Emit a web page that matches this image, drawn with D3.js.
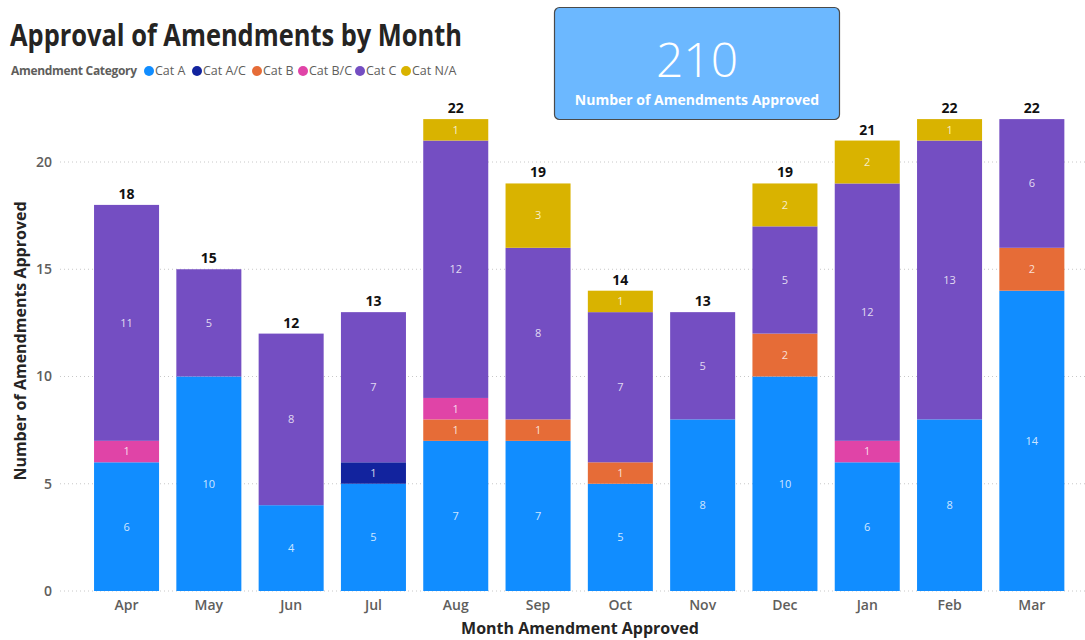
<!DOCTYPE html>
<html>
<head>
<meta charset="utf-8">
<script src="https://cdn.jsdelivr.net/npm/d3@7"></script>
<style>
  body { margin: 0; background: #fff; }
  svg { display: block; }
  text { font-family: "Open Sans", "Noto Sans", sans-serif; }
</style>
</head>
<body>
<div id="chart"></div>
<script>
// months and categories
var months = ["Apr", "May", "Jun", "Jul", "Aug", "Sep", "Oct", "Nov", "Dec", "Jan", "Feb", "Mar"];
var categories = ["Cat A", "Cat A/C", "Cat B", "Cat B/C", "Cat C", "Cat N/A"];
var catColors = ["#118DFF", "#12239E", "#E66C37", "#E044A7", "#744EC2", "#D9B300"];

// values per category, one per month
var catA  = [6, 10, 4, 5, 7, 7, 5, 8, 10, 6, 8, 14];
var catAC = [0, 0, 0, 1, 0, 0, 0, 0, 0, 0, 0, 0];
var catB  = [0, 0, 0, 0, 1, 1, 1, 0, 2, 0, 0, 2];
var catBC = [1, 0, 0, 0, 1, 0, 0, 0, 0, 1, 0, 0];
var catC  = [11, 5, 8, 7, 12, 8, 7, 5, 5, 12, 13, 6];
var catNA = [0, 0, 0, 0, 1, 3, 1, 0, 2, 2, 1, 0];

var yTicks = [0, 5, 10, 15, 20];

var W = 1085, H = 640;
var svg = d3.select("#chart").append("svg")
    .attr("width", W)
    .attr("height", H);

// build table for the stack
var series = [catA, catAC, catB, catBC, catC, catNA];
var table = months.map(function (m, i) {
    var row = {month: m};
    categories.forEach(function (c, j) { row[c] = series[j][i]; });
    return row;
});
var totals = table.map(function (r) {
    return d3.sum(categories, function (c) { return r[c]; });
});

var x = d3.scaleBand()
    .domain(months)
    .range([85.4, 1073])
    .paddingInner(0.21)
    .paddingOuter(0.105);

var y = d3.scaleLinear()
    .domain([0, 22])
    .range([591, 119.1]);

var color = d3.scaleOrdinal().domain(categories).range(catColors);

// gridlines
svg.append("g").selectAll("line")
    .data(yTicks)
    .enter().append("line")
    .attr("x1", 60)
    .attr("x2", 1085)
    .attr("y1", function (d) { return y(d); })
    .attr("y2", function (d) { return y(d); })
    .attr("stroke", "#c8c8c8")
    .attr("stroke-width", 1)
    .attr("stroke-dasharray", "1,3");

// y axis tick labels
svg.append("g").selectAll("text")
    .data(yTicks)
    .enter().append("text")
    .attr("x", 52)
    .attr("y", function (d) { return y(d); })
    .attr("dy", "0.35em")
    .attr("text-anchor", "end")
    .attr("font-size", 14)
    .attr("font-weight", 600)
    .attr("fill", "#605E5C")
    .text(function (d) { return d; });

// stacked bars
var stack = d3.stack().keys(categories)(table);

var layers = svg.append("g").selectAll("g")
    .data(stack)
    .enter().append("g")
    .attr("fill", function (d) { return color(d.key); });

layers.selectAll("rect")
    .data(function (d) { return d.filter(function (s) { return s[1] - s[0] > 0; }); })
    .enter().append("rect")
    .attr("x", function (d) { return x(d.data.month); })
    .attr("width", x.bandwidth())
    .attr("y", function (d) { return y(d[1]); })
    .attr("height", function (d) { return y(d[0]) - y(d[1]); });

// segment labels
layers.selectAll("text")
    .data(function (d) { return d.filter(function (s) { return s[1] - s[0] > 0; }); })
    .enter().append("text")
    .attr("x", function (d) { return x(d.data.month) + x.bandwidth() / 2; })
    .attr("y", function (d) { return (y(d[0]) + y(d[1])) / 2; })
    .attr("dy", "0.35em")
    .attr("text-anchor", "middle")
    .attr("font-size", 11)
    .attr("fill", "#fff")
    .attr("fill-opacity", 0.8)
    .text(function (d) { return d[1] - d[0]; });

// totals above bars
svg.append("g").selectAll("text")
    .data(months)
    .enter().append("text")
    .attr("x", function (d) { return x(d) + x.bandwidth() / 2; })
    .attr("y", function (d, i) { return y(totals[i]) - 6; })
    .attr("text-anchor", "middle")
    .attr("font-size", 14)
    .attr("font-weight", 700)
    .attr("fill", "#111")
    .text(function (d, i) { return totals[i]; });

// x axis labels
svg.append("g").selectAll("text")
    .data(months)
    .enter().append("text")
    .attr("x", function (d) { return x(d) + x.bandwidth() / 2; })
    .attr("y", 610)
    .attr("text-anchor", "middle")
    .attr("font-size", 14)
    .attr("font-weight", 600)
    .attr("fill", "#605E5C")
    .text(function (d) { return d; });

// axis titles
svg.append("text")
    .attr("x", 580)
    .attr("y", 634)
    .attr("text-anchor", "middle")
    .attr("font-size", 16)
    .attr("font-weight", 700)
    .attr("fill", "#252423")
    .text("Month Amendment Approved");

svg.append("text")
    .attr("transform", "translate(26,341) rotate(-90)")
    .attr("text-anchor", "middle")
    .attr("font-size", 16)
    .attr("font-weight", 700)
    .attr("fill", "#252423")
    .text("Number of Amendments Approved");

// title
svg.append("text")
    .attr("x", 10)
    .attr("y", 46)
    .attr("font-family", "Roboto, sans-serif")
    .attr("font-size", 31)
    .attr("font-weight", 700)
    .attr("fill", "#252423")
    .attr("textLength", 452)
    .attr("lengthAdjust", "spacingAndGlyphs")
    .text("Approval of Amendments by Month");

// legend
var legend = svg.append("g").attr("transform", "translate(0,71)");
legend.append("text")
    .attr("x", 11)
    .attr("dy", "0.35em")
    .attr("font-size", 12)
    .attr("font-weight", 700)
    .attr("fill", "#605E5C")
    .attr("textLength", 126)
    .text("Amendment Category");

var legX = [149, 197, 257, 303, 360, 406];
categories.forEach(function (c, i) {
    legend.append("circle")
        .attr("cx", legX[i])
        .attr("r", 5)
        .attr("fill", color(c));
    legend.append("text")
        .attr("x", legX[i] + 6)
        .attr("dy", "0.35em")
        .attr("font-size", 12.5)
        .attr("fill", "#605E5C")
        .text(c);
});

// KPI card
var card = svg.append("g");
card.append("rect")
    .attr("x", 554.5)
    .attr("y", 7.5)
    .attr("width", 285)
    .attr("height", 112)
    .attr("rx", 5)
    .attr("fill", "#6CB8FF")
    .attr("stroke", "#4a4a4a")
    .attr("stroke-width", 1.2);
card.append("text")
    .attr("x", 697)
    .attr("y", 77)
    .attr("text-anchor", "middle")
    .attr("font-family", "Roboto, sans-serif")
    .attr("font-size", 48)
    .attr("font-weight", 300)
    .attr("fill", "#fff")
    .text(d3.sum(totals));
card.append("text")
    .attr("x", 697)
    .attr("y", 105)
    .attr("text-anchor", "middle")
    .attr("font-size", 14)
    .attr("font-weight", 700)
    .attr("fill", "#fff")
    .text("Number of Amendments Approved");
</script>
</body>
</html>
